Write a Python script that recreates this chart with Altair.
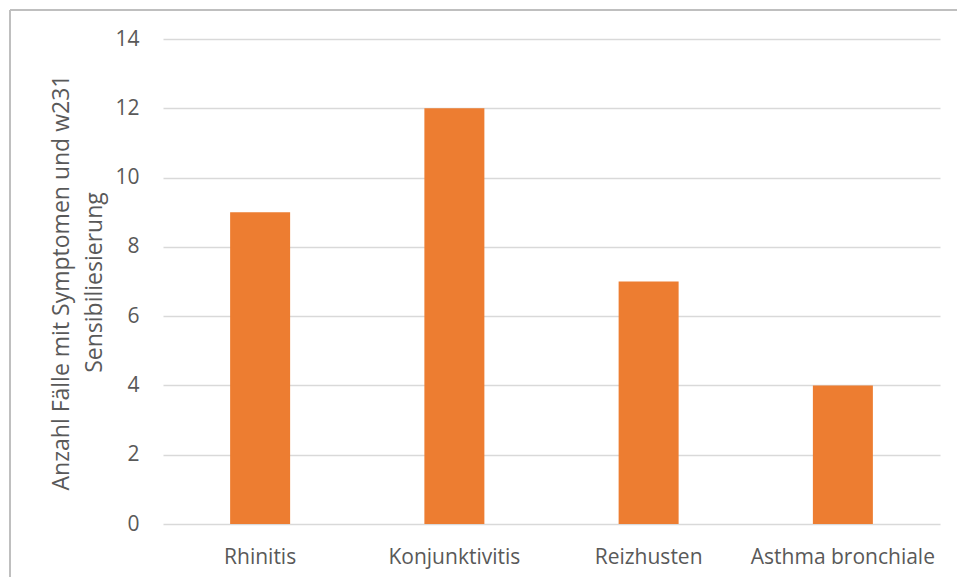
import altair as alt
import pandas as pd

categories = ["Rhinitis", "Konjunktivitis", "Reizhusten", "Asthma bronchiale"]
values = [9, 12, 7, 4]

df = pd.DataFrame({"cat": categories, "val": values})

FONT = "Open Sans"

bars = alt.Chart(df).mark_bar(color="#ED7D31", size=60).encode(
    x=alt.X("cat:N", sort=categories,
            scale=alt.Scale(paddingInner=0.69, paddingOuter=0.345),
            axis=alt.Axis(title=None, labelAngle=0, labelFontSize=21, labelColor="#595959",
                          labelFont=FONT, ticks=False, domain=False, labelPadding=39,
                          labelBaseline="alphabetic", labelLimit=400)),
    y=alt.Y("val:Q", scale=alt.Scale(domain=[0, 14]),
            axis=alt.Axis(values=[0, 2, 4, 6, 8, 10, 12, 14], title=["Anzahl Fälle mit Symptomen und w231", "Sensibiliesierung"],
                          titleFont=FONT, titleFontSize=23, titleFontWeight="normal", titleColor="#595959",
                          titleX=-90, titleY=243, titleAlign="center", titleBaseline="bottom", titleLineHeight=33,
                          labelFont=FONT, labelFontSize=21, labelColor="#595959", labelPadding=24,
                          ticks=False, domain=False, gridColor="#d9d9d9", gridWidth=1.5)),
)

border_left = alt.Chart(df).mark_rule(color="#bfbfbf", strokeWidth=1.5).encode(
    x=alt.value(-153), y=alt.value(-29), y2=alt.value(600))
border_top = alt.Chart(df).mark_rule(color="#bfbfbf", strokeWidth=1.5).encode(
    x=alt.value(-153), x2=alt.value(900), y=alt.value(-29))

chart = alt.layer(bars, border_left, border_top).properties(
    width=777, height=485,
    autosize=alt.AutoSizeParams(type="none"),
    padding={"left": 163, "top": 39, "right": 17, "bottom": 53},
    background="white",
).configure_view(stroke=None)

chart.save("out.html", embed_options={"renderer": "svg", "actions": False})
